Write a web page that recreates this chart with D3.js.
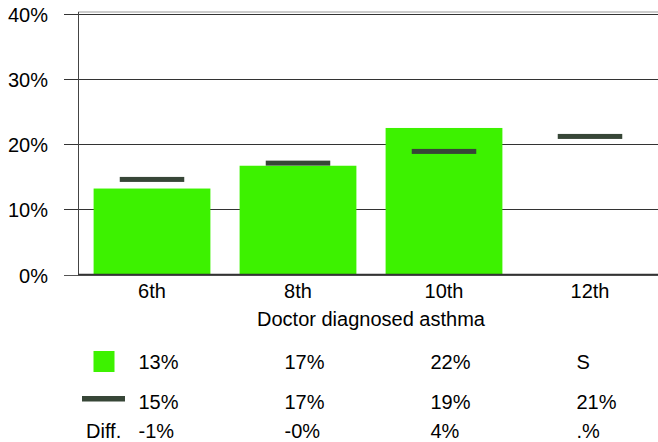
<!DOCTYPE html>
<html>
<head>
<meta charset="utf-8">
<script src="https://cdn.jsdelivr.net/npm/d3@7"></script>
<style>
  html, body { margin: 0; padding: 0; background: #fff; }
  svg { display: block; font-family: "Liberation Sans", Arial, sans-serif; }
</style>
</head>
<body>
<svg id="chart" width="658" height="442"></svg>
<script>
const categories = ["6th", "8th", "10th", "12th"];
const barValues = [13.2, 16.7, 22.5, null];
const markerValues = [14.6, 17.1, 18.9, 21.2];
const yTicks = [0, 10, 20, 30, 40];
const axisTitle = "Doctor diagnosed asthma";
const row1Labels = ["13%", "17%", "22%", "S"];
const row2Labels = ["15%", "17%", "19%", "21%"];
const diffLabels = ["-1%", "-0%", "4%", ".%"];
const diffTitle = "Diff.";

const barColor = "#3df200";
const markerColor = "#374637";
const fontSize = 20;

const svg = d3.select("#chart");

const x = d3.scaleBand().domain(categories).range([79, 663]).paddingInner(0.2).paddingOuter(0.1);
const y = d3.scaleLinear().domain([0, 40]).range([274.5, 14]);

// frame top line
svg.append("line").attr("x1", 78).attr("x2", 658).attr("y1", 12).attr("y2", 12)
  .attr("stroke", "#999").attr("stroke-width", 1);

// gridlines
svg.append("g").selectAll("line").data(yTicks).join("line")
  .attr("x1", 64).attr("x2", 658)
  .attr("y1", d => Math.round(y(d)) + 0.5).attr("y2", d => Math.round(y(d)) + 0.5)
  .attr("stroke", d => d === 0 ? "#555" : "#333").attr("stroke-width", 1);

// y tick labels
svg.append("g").selectAll("text").data(yTicks).join("text")
  .attr("x", 48).attr("y", d => Math.round(y(d)) + 0.5)
  .attr("dy", "0.36em").attr("text-anchor", "end")
  .attr("font-size", fontSize).attr("fill", "#000")
  .text(d => d + "%");

// bars
svg.append("g").selectAll("rect").data(categories.map((c, i) => ({c, v: barValues[i]})).filter(d => d.v != null))
  .join("rect")
  .attr("x", d => x(d.c)).attr("width", x.bandwidth())
  .attr("y", d => y(d.v)).attr("height", d => y(0) - y(d.v))
  .attr("fill", barColor);

// y axis line
svg.append("line").attr("x1", 78.5).attr("x2", 78.5).attr("y1", 12).attr("y2", 275)
  .attr("stroke", "#444").attr("stroke-width", 1);

// baseline dark
svg.append("line").attr("x1", 78).attr("x2", 658).attr("y1", 274.5).attr("y2", 274.5)
  .attr("stroke", "#333").attr("stroke-width", 1.5);

// markers
const mw = 64.5;
svg.append("g").selectAll("rect").data(categories.map((c, i) => ({c, v: markerValues[i]})))
  .join("rect")
  .attr("x", d => x(d.c) + x.bandwidth() / 2 - mw / 2).attr("width", mw)
  .attr("y", d => y(d.v) - 2.5).attr("height", 5)
  .attr("fill", markerColor);

// category labels
svg.append("g").selectAll("text").data(categories).join("text")
  .attr("x", d => x(d) + x.bandwidth() / 2).attr("y", 297.5)
  .attr("text-anchor", "middle").attr("font-size", fontSize)
  .text(d => d);

svg.append("text").attr("x", (79 + 663) / 2).attr("y", 325.5)
  .attr("text-anchor", "middle").attr("font-size", fontSize)
  .text(axisTitle);

// table
const colX = c => x(c) + x.bandwidth() / 2 - 13.5;
svg.append("rect").attr("x", 93.5).attr("y", 351).attr("width", 21).attr("height", 21).attr("fill", barColor);
svg.append("rect").attr("x", 82).attr("y", 396).attr("width", 43).attr("height", 5.5).attr("fill", markerColor);
svg.append("text").attr("x", 86).attr("y", 437.5).attr("font-size", fontSize).text(diffTitle);

function row(labels, yy) {
  svg.append("g").selectAll("text").data(categories).join("text")
    .attr("x", d => colX(d)).attr("y", yy).attr("font-size", fontSize)
    .text((d, i) => labels[i]);
}
row(row1Labels, 368.5);
row(row2Labels, 409);
row(diffLabels, 437.5);
</script>
</body>
</html>
